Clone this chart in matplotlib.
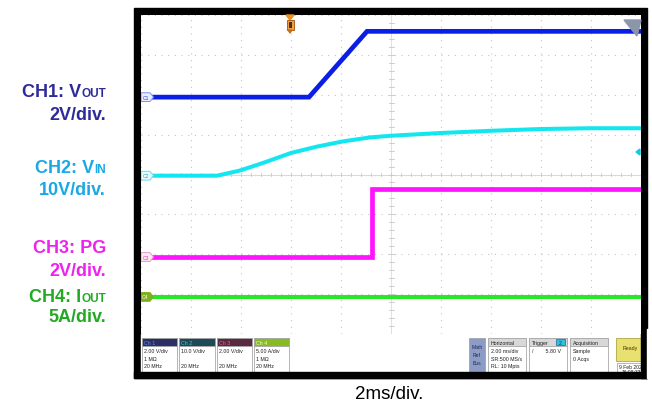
import matplotlib
matplotlib.use('Agg')
import matplotlib.pyplot as plt
from matplotlib.patches import Rectangle, Polygon

plt.rcParams['font.family'] = ['Liberation Sans', 'DejaVu Sans']

# --- scope traces (time in ms, values in V / A) ---
t_vout = [0, 6.72, 9.04, 20]
vout = [0, 0, 3.3, 3.3]

t_vin = [0, 3.04, 3.96, 4.88, 6.0, 7.04, 8.08, 9.16, 9.96, 11.96, 13.96, 15.96, 17.96, 20]
vin = [0, 0, 1.3, 3.2, 5.7, 7.3, 8.6, 9.6, 10.0, 10.7, 11.25, 11.7, 11.9, 11.9]

t_pg = [0, 9.24, 9.24, 20]
pg = [0, 0, 3.4, 3.4]

t_iout = [0, 20]
iout = [0, 0]

# channel settings: units per division, ground offset in divisions
ch_names = ['C1', 'C2', 'C3', 'C4']
ch_scale = [2, 10, 2, 5]
ch_offset = [1.94, -0.03, -2.07, -3.07]
ch_colors = ['#0a1ee6', '#14e6f0', '#ff14ff', '#28e628']
ch_widths = [3.4, 2.9, 3.4, 2.9]

traces = [(t_vout, vout), (t_vin, vin), (t_pg, pg), (t_iout, iout)]

W, H = 652, 402
fig = plt.figure(figsize=(W / 100, H / 100), dpi=100)
fig.patch.set_facecolor('white')

# background layer in pixel coords
bg = fig.add_axes([0, 0, 1, 1], zorder=0)
bg.set_xlim(0, W)
bg.set_ylim(H, 0)
bg.axis('off')
bg.add_patch(Rectangle((134, 9), 513, 370, color='black'))
bg.add_patch(Rectangle((141, 335), 500, 38, color='white'))

# plot area
x0, y0, x1, y1 = 141, 16, 641, 335
ax = fig.add_axes([x0 / W, (H - y1) / H, (x1 - x0) / W, (y1 - y0) / H], zorder=1)
ax.set_xlim(0, 20)
ax.set_ylim(-4, 4)
ax.set_facecolor('white')
for s in ax.spines.values():
    s.set_visible(False)
ax.set_xticks([])
ax.set_yticks([])

for xv in range(0, 21, 2):
    ax.axvline(xv, color='#c4c4c4', lw=0.8, ls=(0, (1, 5)), zorder=1)
for yv in range(-4, 5):
    ax.axhline(yv, color='#c4c4c4', lw=0.8, ls=(0, (1, 5)), zorder=1)
ax.axhline(0, color='#d8d8d8', lw=0.7, zorder=1)
ax.axvline(10, color='#e0e0e0', lw=0.7, zorder=1)
for i in range(1, 50):
    ax.plot([i * 0.4, i * 0.4], [-0.05, 0.05], color='#c8c8c8', lw=0.6, zorder=1)
for i in range(-19, 20):
    ax.plot([9.9, 10.1], [i * 0.2, i * 0.2], color='#c8c8c8', lw=0.6, zorder=1)

for (t, v), sc, off, c, lw in zip(traces, ch_scale, ch_offset, ch_colors, ch_widths):
    y = [off + val / sc for val in v]
    ax.plot(t, y, color=c, lw=lw, solid_capstyle='butt', solid_joinstyle='miter', zorder=3)

# channel ground markers
marker_fill = ['#e8ecff', '#e6fbff', '#ffe8f6', '#7fb020']
marker_edge = ['#8090f0', '#70d8e8', '#f090c8', '#7fb020']
marker_text = ['#3040d0', '#20a8c0', '#d040a0', '#ffffff']
for name, off, fc, ec, tc in zip(ch_names, ch_offset, marker_fill, marker_edge, marker_text):
    dy = 0.11
    ax.add_patch(Polygon([(0, off - dy), (0.36, off - dy), (0.5, off), (0.36, off + dy), (0, off + dy)],
                         closed=True, fc=fc, ec=ec, lw=0.7, zorder=4))
    ax.text(0.18, off, name, fontsize=3.6, color=tc, ha='center', va='center', zorder=5)

# foreground layer for scope decorations and labels
fg = fig.add_axes([0, 0, 1, 1], zorder=2)
fg.set_xlim(0, W)
fg.set_ylim(H, 0)
fg.axis('off')
fg.patch.set_alpha(0)

# trigger position marker
fg.add_patch(Polygon([(286, 16), (294, 16), (290, 21)], closed=True, color='#f09020'))
fg.add_patch(Rectangle((286.5, 21), 7, 10, fc='#f0a040', ec='#a05010', lw=0.6))
fg.add_patch(Rectangle((288.5, 23), 3, 6, fc='#503010', ec='none'))
fg.add_patch(Polygon([(288, 31), (292, 31), (290, 34)], closed=True, color='#c07020'))
# zoom icon top right
fg.add_patch(Polygon([(624, 21), (641, 21), (637, 37)], closed=True, color='#8c96aa'))
# trigger level arrow
fg.add_patch(Polygon([(636, 153), (640, 150), (640, 156)], closed=True, color='#14c8e0'))

# status bar channel boxes
boxes = [
    (142, 177, 'Ch 1', '#2b2f66', '#6a90e0', ['2.00 V/div', '1 MΩ', '20 MHz']),
    (179, 215, 'Ch 2', '#1d4a55', '#38c8e8', ['10.0 V/div', '', '20 MHz']),
    (217, 252, 'Ch 3', '#5a2a40', '#e060a0', ['2.00 V/div', '', '20 MHz']),
    (254, 289, 'Ch 4', '#88bb22', '#f0ffe0', ['5.00 A/div', '1 MΩ', '20 MHz']),
]
for bx0, bx1, title, hc, tc, lines in boxes:
    bg.add_patch(Rectangle((bx0, 339), bx1 - bx0, 36, fc='white', ec='#a8a8a8', lw=0.6))
    bg.add_patch(Rectangle((bx0, 339), bx1 - bx0, 8, fc=hc, ec='#a8a8a8', lw=0.6))
    bg.text(bx0 + 2, 343.5, title, fontsize=3.8, color=tc, va='center')
    for k, ln in enumerate(lines):
        bg.text(bx0 + 2, 352 + k * 7.3, ln, fontsize=3.8, color='#202020', va='center')

bg.add_patch(Rectangle((469, 339), 16, 36, fc='#8c9cc4', ec='#a0a0b0', lw=0.6))
for k, s in enumerate(['Math', 'Ref', 'Bus']):
    bg.text(477, 348 + k * 8, s, fontsize=3.6, color='#1c2a58', ha='center', va='center')

panels = [
    (488, 526, 'Horizontal', ['2.00 ms/div', 'SR:500 MS/s', 'RL: 10 Mpts']),
    (529, 567, 'Trigger', ['/        5.80 V']),
    (570, 608, 'Acquisition', ['Sample', '0 Acqs']),
]
for bx0, bx1, title, lines in panels:
    bg.add_patch(Rectangle((bx0, 339), bx1 - bx0, 36, fc='white', ec='#a8a8a8', lw=0.6))
    bg.add_patch(Rectangle((bx0, 339), bx1 - bx0, 8, fc='#d8d8d8', ec='#a8a8a8', lw=0.6))
    bg.text(bx0 + 3, 343.5, title, fontsize=3.8, color='#202020', va='center')
    for k, ln in enumerate(lines):
        bg.text(bx0 + 3, 352 + k * 7.3, ln, fontsize=3.8, color='#202020', va='center')
bg.add_patch(Rectangle((556, 340), 9, 6, fc='#30c0e0', ec='#2060a0', lw=0.5))
bg.text(560.5, 343.2, '2', fontsize=3.6, color='#103050', ha='center', va='center')

bg.add_patch(Rectangle((616, 339), 28, 23, fc='#e8e070', ec='#b0a840', lw=0.6))
bg.text(630, 349, 'Ready', fontsize=3.8, color='#403800', ha='center', va='center')
bg.add_patch(Rectangle((617, 364), 27, 12, fc='white', ec='#a8a8a8', lw=0.6))
bg.text(619, 367.5, '9 Feb 2022', fontsize=3.6, color='#202020', va='center')
bg.text(622, 373, '16:08:33', fontsize=3.6, color='#202020', va='center')
bg.add_patch(Rectangle((134, 373), 513, 6, color='black', zorder=5))
bg.add_patch(Rectangle((641, 330), 6, 49, color='black', zorder=5))
bg.add_patch(Rectangle((647, 330), 6, 49, color='white', zorder=5))

# channel descriptions on the left
labels = [
    (97, 'CH1: V', 'OUT', '#2e2a9c'),
    (120, '2V/div.', '', '#2e2a9c'),
    (173, 'CH2: V', 'IN', '#1aa8e6'),
    (195, '10V/div.', '', '#1aa8e6'),
    (253, 'CH3: PG', '', '#ee22ee'),
    (276, '2V/div.', '', '#ee22ee'),
    (302, 'CH4: I', 'OUT', '#22aa22'),
    (322, '5A/div.', '', '#22aa22'),
]
renderer = fig.canvas.get_renderer()
xr = 106
for yb, main, sub, col in labels:
    xm = xr
    if sub:
        ts = fg.text(xr, yb, sub, fontsize=8.5, fontweight='bold', color=col, ha='right', va='baseline')
        xm = xr - ts.get_window_extent(renderer).width
    fg.text(xm, yb, main, fontsize=13, fontweight='bold', color=col, ha='right', va='baseline')

fg.text(389, 399, '2ms/div.', fontsize=13.5, color='black', ha='center', va='baseline')

fig.savefig('out.png', dpi=100)
